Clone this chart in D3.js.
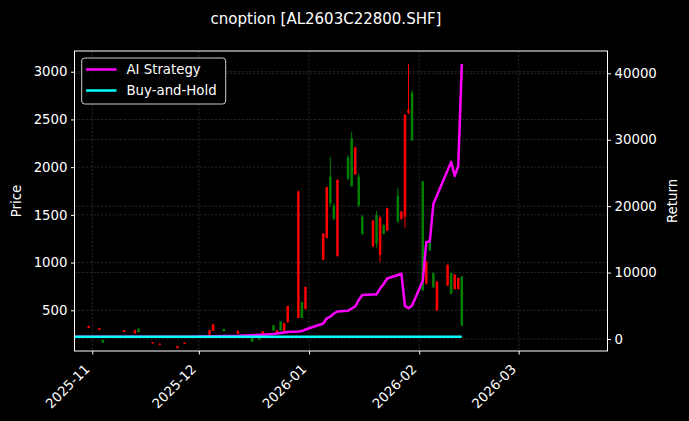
<!DOCTYPE html>
<html>
<head>
<meta charset="utf-8">
<script src="https://cdn.jsdelivr.net/npm/d3@7"></script>
<style>
  html, body { margin: 0; padding: 0; background: #000; }
  svg { display: block; font-family: "DejaVu Sans", sans-serif; }
</style>
</head>
<body>
<div id="chart"></div>
<script>
// candlestick data
var candleDates = ["2025-10-31","2025-11-03","2025-11-04","2025-11-10","2025-11-13","2025-11-14","2025-11-18","2025-11-20","2025-11-25","2025-11-27",
    "2025-12-04","2025-12-05","2025-12-08","2025-12-12","2025-12-16","2025-12-18","2025-12-19","2025-12-22","2025-12-23","2025-12-24",
    "2025-12-25","2025-12-26","2025-12-29","2025-12-30","2025-12-31","2026-01-05","2026-01-06","2026-01-07","2026-01-08","2026-01-09",
    "2026-01-12","2026-01-13","2026-01-14","2026-01-15","2026-01-16","2026-01-19","2026-01-20","2026-01-21","2026-01-22","2026-01-23",
    "2026-01-26","2026-01-27","2026-01-28","2026-01-29","2026-01-30","2026-02-02","2026-02-03","2026-02-04","2026-02-05","2026-02-06",
    "2026-02-09","2026-02-10","2026-02-11","2026-02-12","2026-02-13"];
var opens  = [315,295,188,274,258,308,153,138,104,148, 245,285,305,255,215,208,240,344,255,385, 283,375,420,585,515,1030,1260,1900,1600,1070,
    2100,2300,1925,1900,1480,1170,1500,1080,1390,1335, 1700,1455,1480,2570,2780,1850,780,1220,890,500, 760,890,722,722,855];
var highs  = [338,314,190,293,298,310,168,152,126,163, 293,356,307,286,217,210,283,346,293,388, 370,548,1753,590,747,1307,1795,2109,1621,1873,
    2127,2371,2214,1935,1499,1446,1540,1488,1401,1575, 1785,1540,2554,3078,2805,1855,1017,1226,894,807, 982,894,877,842,859];
var lows   = [312,293,157,272,255,268,152,136,102,147, 241,283,279,252,168,189,238,286,252,286, 280,370,416,416,510,1027,1254,1585,1446,1062,
    1865,1795,1918,1579,1289,1166,1156,1009,1296,1331, 1418,1453,1365,2554,2274,702,772,1121,737,493, 755,668,720,720,335];
var closes = [335,312,160,291,292,272,166,150,124,161, 290,352,282,284,170,191,280,290,290,290, 368,545,1745,420,745,1305,1790,1620,1460,1865,
    1880,1800,2205,1600,1300,1440,1200,1470,1305,1570, 1430,1535,2550,2600,2280,710,1010,1125,740,800, 975,672,875,840,340];

// strategy returns
var stratDates = ["2025-10-27","2025-11-28","2025-12-12","2025-12-19","2025-12-22","2025-12-23","2025-12-24","2025-12-25","2025-12-26","2025-12-29",
    "2025-12-30","2025-12-31","2026-01-05","2026-01-06","2026-01-07","2026-01-08","2026-01-09","2026-01-12","2026-01-13","2026-01-14",
    "2026-01-15","2026-01-16","2026-01-19","2026-01-20","2026-01-21","2026-01-22","2026-01-23","2026-01-26","2026-01-27","2026-01-28",
    "2026-01-29","2026-01-30","2026-02-02","2026-02-03","2026-02-04","2026-02-05","2026-02-06","2026-02-09","2026-02-10","2026-02-11",
    "2026-02-12","2026-02-13"];
var stratValues = [350,350,480,650,750,830,900,980,1050,1130, 1200,1430,2330,3120,3360,3840,4140,4260,4590,4890,
    5870,6630,6700,6730,7600,8280,9110,9640,9820,4970, 4620,5050,8730,14600,14680,20330,21610,25420,26660,24550,
    26050,41420];

var bhDates = ["2025-10-27","2026-02-13"];
var bhValues = [350,350];

var priceTicks = [500,1000,1500,2000,2500,3000];
var returnTicks = [0,10000,20000,30000,40000];
var monthTicks = ["2025-11-01","2025-12-01","2026-01-01","2026-02-01","2026-03-01"];

var parse = d3.timeParse("%Y-%m-%d");

function drawChart(element) {
    var width = 689, height = 421;
    var left = 74.5, right = 607.5, top = 51, bottom = 351;
    var fs = "13.3px", ff = "DejaVu Sans, sans-serif";

    var svg = d3.select(element).append("svg")
        .attr("width", width)
        .attr("height", height);

    svg.append("rect").attr("width", width).attr("height", height).attr("fill", "#000");

    var x = d3.scaleTime()
        .domain([parse("2025-10-27"), parse("2026-03-26")])
        .range([left, right]);
    var y = d3.scaleLinear().domain([73.6, 3217]).range([bottom, top]);
    var y2 = d3.scaleLinear().domain([-1806, 43357]).range([bottom, top]);

    var grid = svg.append("g")
        .attr("stroke", "#777")
        .attr("stroke-opacity", 0.55)
        .attr("stroke-width", 0.6)
        .attr("stroke-dasharray", "2.2,1.6");

    grid.selectAll(".gx").data(monthTicks).enter().append("line")
        .attr("x1", function (d) { return x(parse(d)); })
        .attr("x2", function (d) { return x(parse(d)); })
        .attr("y1", top).attr("y2", bottom);
    grid.selectAll(".gy").data(priceTicks).enter().append("line")
        .attr("x1", left).attr("x2", right)
        .attr("y1", function (d) { return y(d); })
        .attr("y2", function (d) { return y(d); });
    grid.selectAll(".gy2").data(returnTicks).enter().append("line")
        .attr("x1", left).attr("x2", right)
        .attr("y1", function (d) { return y2(d); })
        .attr("y2", function (d) { return y2(d); });

    // candles
    var candles = candleDates.map(function (d, i) {
        return { date: parse(d), o: opens[i], h: highs[i], l: lows[i], c: closes[i] };
    });
    var cg = svg.append("g");
    var candle = cg.selectAll(".candle").data(candles).enter().append("g");
    candle.append("line")
        .attr("x1", function (d) { return x(d.date); })
        .attr("x2", function (d) { return x(d.date); })
        .attr("y1", function (d) { return y(d.h); })
        .attr("y2", function (d) { return y(d.l); })
        .attr("stroke", function (d) { return d.c >= d.o ? "#ff0000" : "#008000"; })
        .attr("stroke-width", 1);
    candle.append("rect")
        .attr("x", function (d) { return x(d.date) - 1.25; })
        .attr("width", 2.5)
        .attr("y", function (d) { return y(Math.max(d.o, d.c)); })
        .attr("height", function (d) { return Math.max(1, Math.abs(y(d.o) - y(d.c))); })
        .attr("fill", function (d) { return d.c >= d.o ? "#ff0000" : "#008000"; });

    var line = d3.line()
        .x(function (d) { return x(d.date); })
        .y(function (d) { return y2(d.v); });

    var strat = stratDates.map(function (d, i) { return { date: parse(d), v: stratValues[i] }; });
    var bh = bhDates.map(function (d, i) { return { date: parse(d), v: bhValues[i] }; });

    svg.append("path").datum(strat)
        .attr("d", line)
        .attr("fill", "none")
        .attr("stroke", "#ff00ff")
        .attr("stroke-width", 2.5)
        .attr("stroke-linejoin", "round");
    svg.append("path").datum(bh)
        .attr("d", line)
        .attr("fill", "none")
        .attr("stroke", "#00ffff")
        .attr("stroke-width", 2.5);

    // frame
    svg.append("rect")
        .attr("x", left).attr("y", top)
        .attr("width", right - left).attr("height", bottom - top)
        .attr("fill", "none").attr("stroke", "#fff").attr("stroke-width", 1);

    var ax = svg.append("g").attr("transform", "translate(0," + bottom + ")")
        .call(d3.axisBottom(x).tickValues(monthTicks.map(parse)).tickFormat(d3.timeFormat("%Y-%m")).tickSize(3.5).tickSizeOuter(0));
    ax.attr("font-family", ff);
    ax.select(".domain").remove();
    ax.selectAll("line").attr("stroke", "#fff");
    ax.selectAll("text")
        .attr("fill", "#fff").style("font-size", fs)
        .attr("text-anchor", "end")
        .attr("x", 0).attr("y", 0).attr("dy", 0)
        .attr("transform", "translate(-2.3,19) rotate(-45)");

    var ay = svg.append("g").attr("transform", "translate(" + left + ",0)")
        .call(d3.axisLeft(y).tickValues(priceTicks).tickFormat(d3.format("d")).tickSize(3.5).tickPadding(3.5).tickSizeOuter(0));
    ay.attr("font-family", ff);
    ay.select(".domain").remove();
    ay.selectAll("line").attr("stroke", "#fff");
    ay.selectAll("text").attr("fill", "#fff").style("font-size", fs);

    var ay2 = svg.append("g").attr("transform", "translate(" + right + ",0)")
        .call(d3.axisRight(y2).tickValues(returnTicks).tickFormat(d3.format("d")).tickSize(3.5).tickPadding(3.5).tickSizeOuter(0));
    ay2.attr("font-family", ff);
    ay2.select(".domain").remove();
    ay2.selectAll("line").attr("stroke", "#fff");
    ay2.selectAll("text").attr("fill", "#fff").style("font-size", fs);

    svg.append("text")
        .attr("transform", "translate(21," + (top + bottom) / 2 + ") rotate(-90)")
        .attr("text-anchor", "middle")
        .attr("fill", "#fff").style("font-size", fs)
        .text("Price");
    svg.append("text")
        .attr("transform", "translate(677," + (top + bottom) / 2 + ") rotate(-90)")
        .attr("text-anchor", "middle")
        .attr("fill", "#fff").style("font-size", fs)
        .text("Return");

    svg.append("text")
        .attr("x", 326).attr("y", 24)
        .attr("text-anchor", "middle")
        .attr("fill", "#fff").style("font-size", "15px")
        .text("cnoption [AL2603C22800.SHF]");

    // legend
    var lg = svg.append("g");
    lg.append("rect")
        .attr("x", 81.7).attr("y", 58).attr("width", 144).attr("height", 46)
        .attr("rx", 3)
        .attr("fill", "#000").attr("fill-opacity", 0.8)
        .attr("stroke", "#ccc").attr("stroke-width", 1);
    var items = [{ name: "AI Strategy", color: "#ff00ff" }, { name: "Buy-and-Hold", color: "#00ffff" }];
    items.forEach(function (it, i) {
        var yy = 69.5 + i * 21;
        lg.append("line")
            .attr("x1", 86).attr("x2", 116.5)
            .attr("y1", yy).attr("y2", yy)
            .attr("stroke", it.color).attr("stroke-width", 2.5);
        lg.append("text")
            .attr("x", 126.5).attr("y", yy + 4.8)
            .attr("fill", "#fff").style("font-size", fs)
            .text(it.name);
    });
}

drawChart(document.getElementById("chart"));
</script>
</body>
</html>
